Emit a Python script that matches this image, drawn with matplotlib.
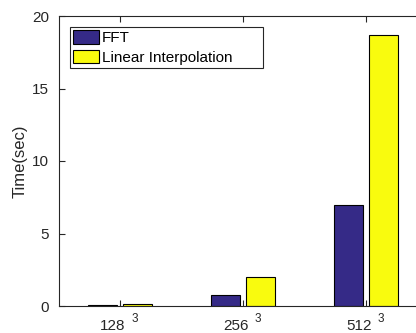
import matplotlib
matplotlib.use("Agg")
import matplotlib.pyplot as plt
import matplotlib.transforms as mtransforms
import numpy as np

plt.rcParams['font.family'] = ['Liberation Sans', 'DejaVu Sans']

sizes = ['128', '256', '512']
fft_time = [0.05, 0.76, 7.0]
interp_time = [0.16, 1.98, 18.7]

ax_color = (0.15, 0.15, 0.15)

fig = plt.figure(figsize=(4.16, 3.33), dpi=100)
# axes extends past right edge of the image, like the cropped original
ax = fig.add_axes([59 / 416, 27 / 333, 369 / 416, 290 / 333])

x = np.arange(1, len(sizes) + 1)
w = 0.235
ax.bar(x - 0.15, fft_time, w, color='#352A87', edgecolor='black', linewidth=0.8, label='FFT')
ax.bar(x + 0.135, interp_time, w, color='#F9FB0E', edgecolor='black', linewidth=0.8,
       label='Linear Interpolation')

ax.set_xlim(0.5, 3.5)
ax.set_ylim(0, 20)
ax.set_yticks([0, 5, 10, 15, 20])
ax.set_xticks(x)
ax.set_xticklabels([])
ax.set_ylabel('Time(sec)', fontsize=12, color=ax_color)
ax.yaxis.set_label_coords(-0.085, 0.5)

ax.tick_params(direction='in', length=4, width=0.8, colors=ax_color, labelsize=11,
               top=True, right=False)
ax.tick_params(axis='y', pad=7)
for s in ax.spines.values():
    s.set_color(ax_color)
    s.set_linewidth(0.8)

# x tick labels: base size plus raised exponent
trans = mtransforms.blended_transform_factory(ax.transData, ax.transAxes)
for xi, s in zip(x, sizes):
    ax.annotate(s, (xi, 0), xycoords=trans, xytext=(3.6, -9.3), textcoords='offset points',
                ha='right', va='top', fontsize=11, color=ax_color, annotation_clip=False)
    ax.annotate('3', (xi, 0), xycoords=trans, xytext=(7.6, -5.0), textcoords='offset points',
                ha='left', va='top', fontsize=8.5, color=ax_color, annotation_clip=False)

leg = ax.legend(loc='upper left', bbox_to_anchor=(0.03, 0.962 - 0.15, 0.523, 0.15),
                mode='expand', fontsize=11,
                frameon=True, fancybox=False, edgecolor=ax_color, framealpha=1,
                borderpad=0.2, handlelength=1.7, handleheight=1.0, handletextpad=0.2,
                labelspacing=0.3, borderaxespad=0)
leg.get_frame().set_linewidth(0.8)

fig.savefig('out.png', dpi=100)
